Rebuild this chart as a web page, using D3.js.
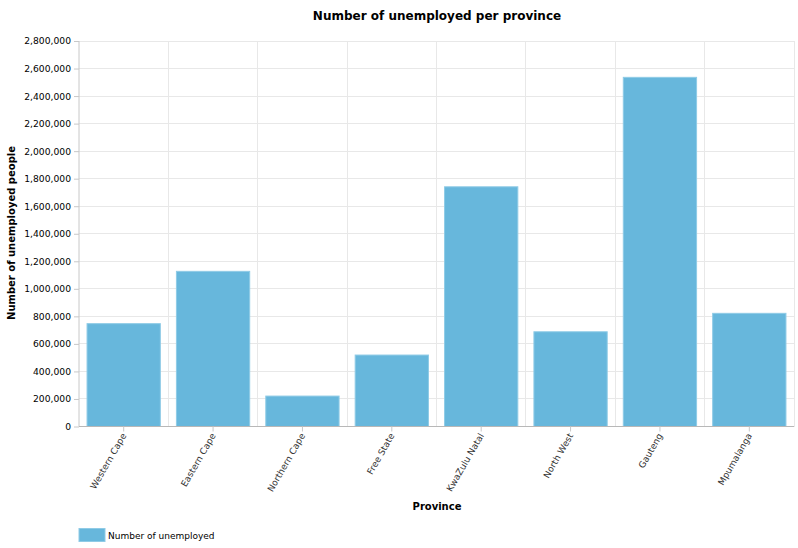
<!DOCTYPE html>
<html><head><meta charset="utf-8">
<script src="https://cdn.jsdelivr.net/npm/d3@7"></script>
<style>body{margin:0;background:#fff;} text{font-family:Tahoma,"DejaVu Sans",Verdana,sans-serif;}</style>
</head><body><svg id="c" width="798" height="548"></svg>
<script>
const categories = ["Western Cape","Eastern Cape","Northern Cape","Free State","KwaZulu Natal","North West","Gauteng","Mpumalanga"];
const unemployed = [747000,1127000,221000,519000,1741000,688000,2536000,822000];
const yTicks = [0,200000,400000,600000,800000,1000000,1200000,1400000,1600000,1800000,2000000,2200000,2400000,2600000,2800000];
const seriesName = "Number of unemployed";

const svg = d3.select("#c");
const m = {l:79, r:794, t:41, b:426.5};
const x = d3.scaleBand().domain(categories).range([m.l, m.r]).paddingInner(0.18).paddingOuter(0.09);
const xb = d3.scaleBand().domain(categories).range([m.l, m.r]);
const y = d3.scaleLinear().domain([0,2800000]).range([m.b, m.t]);
const fmt = d3.format(",");
const font = "DejaVu Sans";

// horizontal grid
svg.append("g").selectAll("line").data(yTicks).join("line")
  .attr("x1", m.l).attr("x2", m.r).attr("y1", d=>y(d)).attr("y2", d=>y(d))
  .attr("stroke", "#e8e8e8").attr("stroke-width",1).attr("shape-rendering","crispEdges");
// vertical grid at band boundaries
svg.append("g").selectAll("line").data(categories.slice(1).concat(["__end"])).join("line")
  .attr("x1", d=> d==="__end"? m.r : xb(d)).attr("x2", d=> d==="__end"? m.r : xb(d))
  .attr("y1", m.t).attr("y2", m.b)
  .attr("stroke", "#e8e8e8").attr("shape-rendering","crispEdges");

// bars
svg.append("g").selectAll("rect").data(unemployed).join("rect")
  .attr("x", (d,i)=>x(categories[i])).attr("width", x.bandwidth())
  .attr("y", d=>y(d)).attr("height", d=>m.b - y(d))
  .attr("fill", "#67b7dc").attr("stroke", "#8fcbe6").attr("stroke-width",1);

// y axis
const ya = svg.append("g").attr("transform", `translate(${m.l},0)`)
  .call(d3.axisLeft(y).tickValues(yTicks).tickFormat(fmt).tickSize(5).tickPadding(3));
ya.select(".domain").attr("stroke","#c8c8c8").attr("d", `M0,${m.t}V${m.b}`);
ya.selectAll(".tick line").attr("stroke","#c8c8c8");
ya.selectAll("text").attr("font-family", font).attr("font-size", 9.2).attr("fill","#000");

// x axis
const xa = svg.append("g").attr("transform", `translate(0,${m.b})`)
  .call(d3.axisBottom(xb).tickSize(5).tickSizeOuter(0));
xa.select(".domain").attr("stroke","#b8b8b8").attr("d", `M${m.l},0H${m.r}`);
xa.selectAll(".tick line").attr("stroke","#c8c8c8");
xa.selectAll("text").attr("font-family", font).attr("font-size", 9).attr("fill","#333")
  .attr("text-anchor","end").attr("dy", 0).attr("y", 0)
  .attr("transform","translate(3,9) rotate(-60)");

// title
svg.append("text").attr("x", 437).attr("y", 20).attr("text-anchor","middle")
  .attr("font-family", font).attr("font-weight","bold").attr("font-size", 12).attr("fill","#000")
  .text("Number of unemployed per province");
// axis titles
svg.append("text").attr("transform","translate(15,233) rotate(-90)").attr("text-anchor","middle")
  .attr("font-family", font).attr("font-weight","bold").attr("font-size", 10).attr("fill","#000")
  .text("Number of unemployed people");
svg.append("text").attr("x", 437).attr("y", 510).attr("text-anchor","middle")
  .attr("font-family", font).attr("font-weight","bold").attr("font-size", 10).attr("fill","#000")
  .text("Province");

// legend
svg.append("rect").attr("x", 79).attr("y", 528.5).attr("width", 26).attr("height", 13)
  .attr("fill","#67b7dc").attr("stroke","#8fcbe6");
svg.append("text").attr("x", 108).attr("y", 539).attr("font-family", font).attr("font-size", 9).attr("fill","#000")
  .text(seriesName);
</script></body></html>
